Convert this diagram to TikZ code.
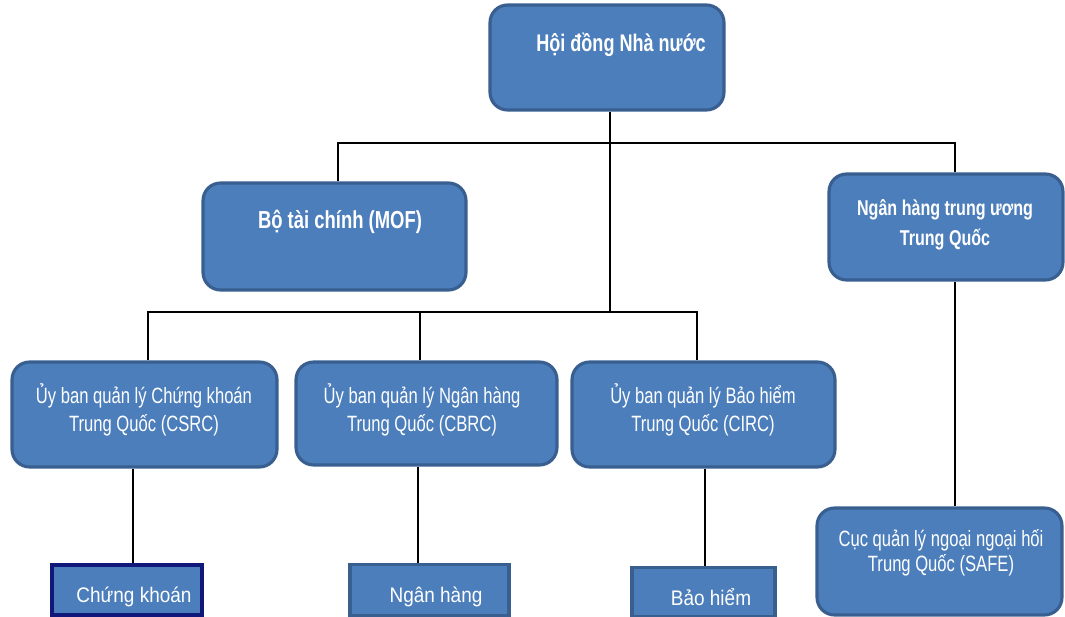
\documentclass[tikz,border=0pt]{standalone}
\usepackage{fontspec}
\setmainfont{Liberation Sans}[FakeStretch=0.75]
\newfontfamily\leaffont{Liberation Sans}[FakeStretch=0.9]
\definecolor{boxblue}{HTML}{4C7EBB}
\definecolor{boxedge}{HTML}{385F8F}
\definecolor{navyedge}{HTML}{10187A}
\tikzset{
    unit/.style={draw=boxedge, line width=1.8pt, fill=boxblue, rounded corners=10pt, inner sep=0pt},
    leaf/.style={draw=boxedge, line width=1.8pt, fill=boxblue, inner sep=0pt},
    headtxt/.style={text=white, align=center, font=\bfseries\fontsize{13.7}{17}\selectfont},
    unittxt/.style={text=white, align=center, font=\fontsize{12.6}{16}\selectfont},
    leaftxt/.style={text=white, font=\leaffont\fontsize{12}{15}\selectfont},
    link/.style={line width=1.3pt}
}
\begin{document}
\begin{tikzpicture}[x=0.02cm, y=-0.02cm]
    \useasboundingbox (0,0) rectangle (1065,617);
    % level 1
    \node[unit, minimum width=4.68cm, minimum height=2.1cm] (hdnn) at (607,57.5) {};
    \node[headtxt] (hdnn-t) at (621,45) {Hội đồng Nhà nước};
    % level 2
    \node[unit, minimum width=5.26cm, minimum height=2.14cm] (mof) at (334.5,236.5) {};
    \node[headtxt, font=\bfseries\fontsize{14}{17}\selectfont] (mof-t) at (340,222) {Bộ tài chính (MOF)};
    \node[unit, minimum width=4.68cm, minimum height=2.12cm] (pboc) at (946,227) {};
    \node[headtxt, font=\bfseries\fontsize{12.2}{17}\selectfont] (pboc-t) at (945,225) {Ngân hàng trung ương\\Trung Quốc};
    % level 3
    \node[unit, minimum width=5.3cm, minimum height=2.1cm] (csrc) at (144.5,414.5) {};
    \node[unittxt] (csrc-t) at (144,410) {Ủy ban quản lý Chứng khoán\\Trung Quốc (CSRC)};
    \node[unit, minimum width=5.22cm, minimum height=2.06cm] (cbrc) at (426.5,413.5) {};
    \node[unittxt] (cbrc-t) at (422,410) {Ủy ban quản lý Ngân hàng\\Trung Quốc (CBRC)};
    \node[unit, minimum width=5.26cm, minimum height=2.1cm] (circ) at (703.5,414.5) {};
    \node[unittxt] (circ-t) at (703,410) {Ủy ban quản lý Bảo hiểm\\Trung Quốc (CIRC)};
    \node[unit, minimum width=4.9cm, minimum height=2.14cm] (safe) at (939.5,561.5) {};
    \node[unittxt, font=\fontsize{12.6}{14}\selectfont] (safe-t) at (941,553) {Cục quản lý ngoại ngoại hối\\Trung Quốc (SAFE)};
    % level 4
    \node[leaf, draw=navyedge, line width=2.6pt, minimum width=3cm, minimum height=1cm] (ck) at (127,590) {};
    \node[leaftxt] (ck-t) at (134,597) {Chứng khoán};
    \node[leaf, minimum width=3.18cm, minimum height=1.02cm] (nh) at (429.5,590) {};
    \node[leaftxt] (nh-t) at (436,597) {Ngân hàng};
    \node[leaf, minimum width=2.86cm, minimum height=0.98cm] (bh) at (703.5,592) {};
    \node[leaftxt] (bh-t) at (711,597) {Bảo hiểm};
    % connectors
    \coordinate (top) at (610,143);
    \coordinate (topl) at (338,143);
    \coordinate (topr) at (955,143);
    \coordinate (mid) at (610,312);
    \coordinate (midl) at (148,312);
    \coordinate (midc) at (420,312);
    \coordinate (midr) at (697,312);
    \draw[link] (hdnn.south -| top) -- (top) -- (mid);
    \draw[link] (mof.north -| topl) -- (topl) -- (topr) -- (pboc.north -| topr);
    \draw[link] (csrc.north -| midl) -- (midl) -- (midr) -- (circ.north -| midr);
    \draw[link] (midc) -- (cbrc.north -| midc);
    \draw[link] (pboc.south -| topr) -- (safe.north -| topr);
    \draw[link] ([xshift=0.12cm]ck.north) -- ([xshift=0.12cm]ck.north |- csrc.south);
    \draw[link] ([xshift=-0.23cm]nh.north) -- ([xshift=-0.23cm]nh.north |- cbrc.south);
    \draw[line width=0.6pt] ([xshift=0.03cm]bh.north) -- ([xshift=0.03cm]bh.north |- circ.south);
\end{tikzpicture}
\end{document}
